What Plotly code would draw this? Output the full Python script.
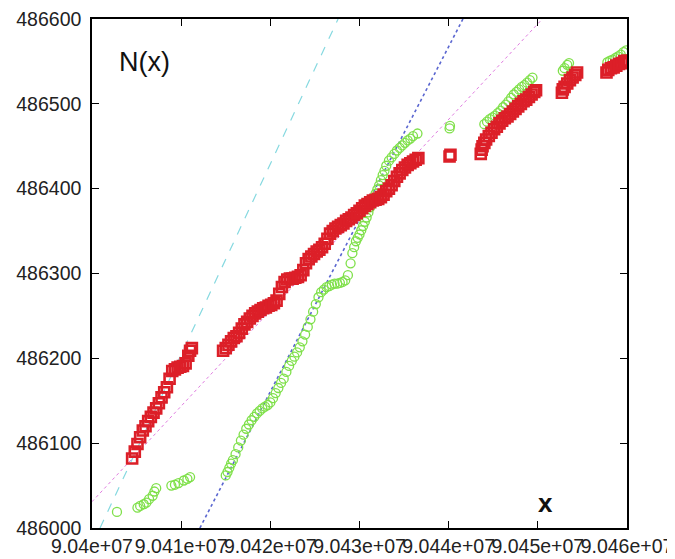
import plotly.graph_objects as go

# ---------------- data ----------------
red_x = [
    90404500, 90404800, 90405100, 90405400, 90405700, 90406000, 90406300, 90406600,
    90406900, 90407200, 90407500, 90407800, 90408100, 90408400, 90408700, 90409000,
    90409300, 90409600, 90409900, 90410200, 90410500, 90410800, 90411000, 90411200,
    90414700, 90415000, 90415300, 90415600, 90415900, 90416200, 90416500, 90416800,
    90417100, 90417400, 90417700, 90418000, 90418300, 90418600, 90418900, 90419200,
    90419500, 90419800, 90420100, 90420400, 90420700, 90421000, 90421300, 90421600,
    90421900, 90422200, 90422500, 90422800, 90423100, 90423400, 90423700, 90424000,
    90424300, 90424600, 90424900, 90425200, 90425500, 90425800, 90426100, 90426400,
    90426700, 90427000, 90427300, 90427600, 90427900, 90428200, 90428500, 90428800,
    90429100, 90429400, 90429700, 90430000, 90430300, 90430600, 90430900, 90431200,
    90431500, 90431800, 90432100, 90432400, 90432700, 90433000, 90433300, 90433600,
    90433900, 90434200, 90434500, 90434800, 90435100, 90435400, 90435700, 90436000,
    90436300, 90436600,
    90440100, 90440200,
    90443600, 90443700, 90443800, 90444000, 90444200, 90444500, 90444800, 90445100,
    90445400, 90445700, 90446000, 90446300, 90446600, 90446900, 90447200, 90447500,
    90447800, 90448100, 90448400, 90448700, 90449000, 90449300, 90449600, 90449800,
    90452700, 90452800, 90453000, 90453300, 90453600, 90453900, 90454200, 90454400,
    90457700, 90457900, 90458200, 90458500, 90458800, 90459100, 90459400, 90459700,
    90460000,
]
red_y = [
    486082, 486090, 486099, 486107, 486115, 486120, 486126, 486131,
    486136, 486141, 486147, 486154, 486160, 486166, 486176, 486185,
    486187, 486189, 486190, 486191, 486194, 486203, 486209, 486212,
    486209, 486212, 486216, 486220, 486224, 486226, 486230, 486235,
    486240, 486243, 486247, 486250, 486253, 486255, 486257, 486259,
    486260, 486262, 486263, 486265, 486268, 486276, 486284, 486290,
    486293, 486294, 486294, 486295, 486296, 486298, 486304, 486312,
    486317, 486320, 486323, 486326, 486328, 486331, 486335, 486341,
    486347, 486350, 486353, 486355, 486357, 486359, 486362, 486364,
    486366, 486369, 486371, 486374, 486377, 486380, 486382, 486384,
    486386, 486387, 486388, 486390, 486393, 486397, 486400, 486404,
    486409, 486414, 486418, 486422, 486425, 486428, 486430, 486432,
    486434, 486436,
    486438, 486440,
    486441, 486446, 486450, 486454, 486458, 486462, 486466, 486470,
    486473, 486477, 486480, 486483, 486485, 486488, 486491, 486494,
    486497, 486500, 486503, 486505, 486508, 486511, 486514, 486516,
    486513, 486517, 486520, 486524, 486528, 486531, 486534, 486537,
    486537, 486540, 486542, 486543, 486545, 486547, 486548, 486550,
    486551,
]

green_x = [
    90402800,
    90405100, 90405400, 90405800, 90406100, 90406400, 90406800, 90407000, 90407200,
    90408900, 90409300, 90409700, 90410300, 90410700, 90411000,
    90415000, 90415200, 90415400, 90415600, 90415800, 90416100, 90416400, 90416700,
    90417000, 90417300, 90417600, 90417900, 90418200, 90418500, 90418800, 90419100,
    90419400, 90419700, 90420000, 90420300, 90420600, 90420900, 90421200, 90421500,
    90421800, 90422100, 90422400, 90422700, 90423000, 90423300, 90423600, 90423900,
    90424200, 90424500, 90424800, 90425100, 90425400, 90425700, 90426000, 90426300,
    90426600, 90426900, 90427200, 90427500, 90427800, 90428100, 90428400, 90428700,
    90429000, 90429200, 90429400, 90429600, 90429800, 90430000, 90430200, 90430400,
    90430600, 90430800, 90431000, 90431200, 90431400, 90431600, 90431800, 90432000,
    90432200, 90432400, 90432600, 90432800, 90433000, 90433300, 90433600, 90433900,
    90434200, 90434500, 90434800, 90435100, 90435400, 90435700, 90436000, 90436500,
    90440100, 90440150,
    90444000, 90444300, 90444600, 90444900, 90445200, 90445500, 90445800, 90446100,
    90446400, 90446700, 90447000, 90447300, 90447600, 90447900, 90448200, 90448500,
    90448800, 90449100, 90449400,
    90452800, 90453000, 90453300, 90453500,
    90457800, 90458100, 90458400, 90458700, 90459000, 90459300, 90459600, 90459900,
]
green_y = [
    486019,
    486024, 486026, 486028, 486030, 486034, 486038, 486043, 486047,
    486050, 486051, 486053, 486056, 486058, 486060,
    486062, 486066, 486071, 486076, 486080, 486087, 486095, 486103,
    486110, 486117, 486122, 486127, 486131, 486135, 486138, 486141,
    486143, 486145, 486148, 486153, 486159, 486165, 486171, 486176,
    486184, 486191, 486197, 486202, 486207, 486213, 486220, 486228,
    486237, 486246, 486255, 486264, 486272, 486278, 486281, 486284,
    486285, 486287, 486288, 486288, 486289, 486290, 486292, 486298,
    486312, 486324, 486331, 486338, 486342, 486346, 486351, 486356,
    486361, 486366, 486372, 486378, 486384, 486389, 486394, 486399,
    486404, 486410, 486416, 486421, 486427, 486433, 486437, 486441,
    486445, 486448, 486451, 486454, 486457, 486459, 486462, 486465,
    486471, 486474,
    486476, 486479, 486482, 486484, 486486, 486489, 486492, 486496,
    486499, 486503, 486507, 486511, 486514, 486517, 486520, 486522,
    486525, 486528, 486531,
    486539, 486542, 486546, 486548,
    486549, 486551, 486552, 486554, 486556, 486558, 486561, 486563,
]

# fitted reference lines (end points)
cyan_x = [90400900, 90427600]
cyan_y = [486000, 486600]
blue_x = [90412100, 90441600]
blue_y = [486000, 486600]
magenta_x = [90400000, 90450500]
magenta_y = [486031, 486600]

x_ticks = [90400000, 90410000, 90420000, 90430000, 90440000, 90450000, 90460000]
x_tick_text = ["9.04e+07", "9.041e+07", "9.042e+07", "9.043e+07",
               "9.044e+07", "9.045e+07", "9.046e+07"]
y_ticks = [486000, 486100, 486200, 486300, 486400, 486500, 486600]
y_tick_text = ["486000", "486100", "486200", "486300", "486400", "486500", "486600"]

# ---------------- figure ----------------
fig = go.Figure()

fig.add_trace(go.Scatter(x=cyan_x, y=cyan_y, mode="lines",
                         line=dict(color="#86d9e0", width=1.2, dash="dash"),
                         showlegend=False, hoverinfo="skip"))
fig.add_trace(go.Scatter(x=blue_x, y=blue_y, mode="lines",
                         line=dict(color="#5a66d0", width=1.6, dash="dot"),
                         showlegend=False, hoverinfo="skip"))
fig.add_trace(go.Scatter(x=magenta_x, y=magenta_y, mode="lines",
                         line=dict(color="#e07ce0", width=1, dash="dot"),
                         showlegend=False, hoverinfo="skip"))

fig.add_trace(go.Scatter(x=green_x, y=green_y, mode="markers",
                         marker=dict(symbol="circle-open", size=9,
                                     color="#7fe04a", line=dict(width=1.3)),
                         showlegend=False))
fig.add_trace(go.Scatter(x=red_x, y=red_y, mode="markers",
                         marker=dict(symbol="square-open", size=10,
                                     color="#dc1f28", line=dict(width=2.6)),
                         showlegend=False))

axis_common = dict(
    showline=True, linecolor="black", linewidth=1.5, mirror="ticks",
    ticks="inside", ticklen=7, tickwidth=1.2, tickcolor="black",
    showgrid=False, zeroline=False, automargin=False,
    ticklabeloverflow="allow",
    tickfont=dict(family="Liberation Sans, Arial, sans-serif", size=19.5, color="#222"),
)

fig.update_xaxes(range=[90400000, 90460000], tickmode="array",
                 tickvals=x_ticks, ticktext=x_tick_text, tickangle=0,
                 ticklabelstandoff=0, **axis_common)
fig.update_yaxes(range=[486000, 486600], tickmode="array",
                 tickvals=y_ticks, ticktext=y_tick_text,
                 ticklabelstandoff=5, **axis_common)

# page body adds an 8px offset, so the figure is sized to fit the window
fig.update_layout(
    width=667, height=551,
    margin=dict(l=84, r=48, t=11, b=31),
    plot_bgcolor="white", paper_bgcolor="white",
    annotations=[
        dict(text="N(x)", xref="paper", yref="paper", x=0.046, y=0.916,
             xanchor="left", yanchor="middle", showarrow=False,
             font=dict(family="Liberation Sans, Arial, sans-serif", size=27, color="#111")),
        dict(text="<b>x</b>", xref="paper", yref="paper", x=0.847, y=0.05,
             xanchor="center", yanchor="middle", showarrow=False,
             font=dict(family="Liberation Sans, Arial, sans-serif", size=26, color="#111")),
    ],
)

fig.write_html("out.html")
